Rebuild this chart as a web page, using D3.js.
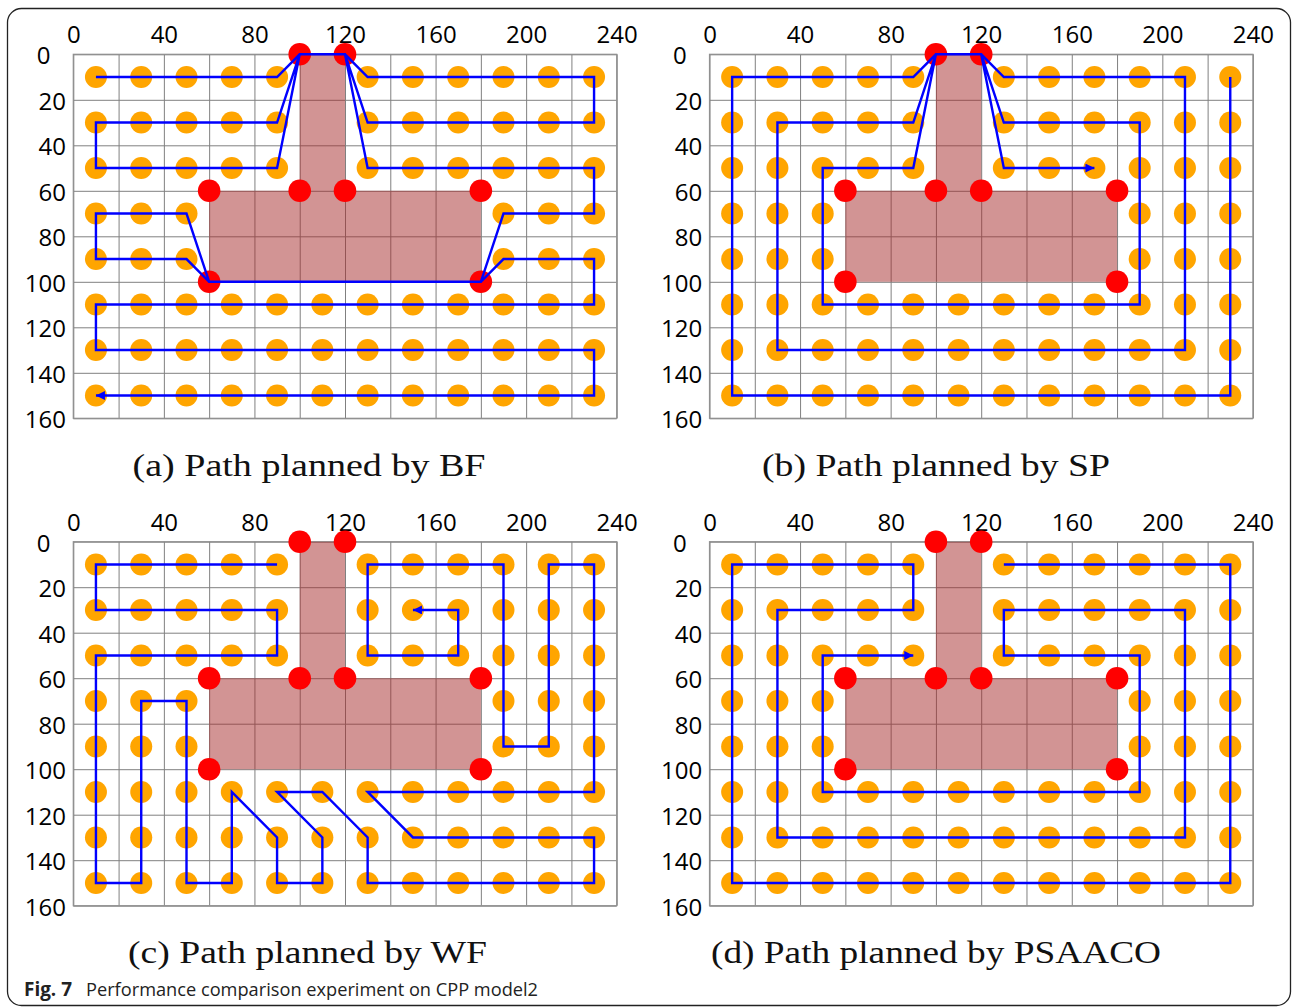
<!DOCTYPE html>
<html>
<head>
<meta charset="utf-8">
<script src="https://cdn.jsdelivr.net/npm/d3@7"></script>
<style>
  html, body { margin: 0; padding: 0; background: #fff; }
  svg { display: block; }
</style>
</head>
<body>
<svg id="fig" width="1293" height="1008"></svg>
<script>
// ---- workspace description (units: cm) ----
const xTicks = [0, 40, 80, 120, 160, 200, 240];
const yTicks = [0, 20, 40, 60, 80, 100, 120, 140, 160];
const gridX = [0, 20, 40, 60, 80, 100, 120, 140, 160, 180, 200, 220, 240];
const gridY = [0, 20, 40, 60, 80, 100, 120, 140, 160];

// centres of the coverage cells
const cellX = [10, 30, 50, 70, 90, 110, 130, 150, 170, 190, 210, 230];
const cellY = [10, 30, 50, 70, 90, 110, 130, 150];

// cells occupied by the T-shaped obstacle
const blockedCells = [
  [110, 10], [110, 30], [110, 50],
  [70, 70], [90, 70], [110, 70], [130, 70], [150, 70], [170, 70],
  [70, 90], [90, 90], [110, 90], [130, 90], [150, 90], [170, 90]
];

// obstacle outline and its corner vertices
const obstacle = [[100, 0], [120, 0], [120, 60], [180, 60], [180, 100], [60, 100], [60, 60], [100, 60]];
const obstacleCorners = [[100, 0], [120, 0], [60, 60], [100, 60], [120, 60], [180, 60], [60, 100], [180, 100]];

// planned paths
const pathBF = [
  [10, 10], [90, 10], [100, 0], [120, 0], [130, 10], [230, 10], [230, 30], [130, 30], [120, 0], [100, 0],
  [90, 30], [10, 30], [10, 50], [90, 50], [100, 0], [120, 0], [130, 50], [230, 50], [230, 70], [190, 70],
  [180, 100], [60, 100], [50, 70], [10, 70], [10, 90], [50, 90], [60, 100], [180, 100], [190, 90], [230, 90],
  [230, 110], [10, 110], [10, 130], [230, 130], [230, 150], [10, 150]
];
const pathSP = [
  [230, 10], [230, 150], [10, 150], [10, 10], [90, 10], [100, 0], [120, 0], [130, 10], [210, 10], [210, 130],
  [30, 130], [30, 30], [90, 30], [100, 0], [120, 0], [130, 30], [190, 30], [190, 110], [50, 110], [50, 50],
  [90, 50], [100, 0], [120, 0], [130, 50], [170, 50]
];
const pathWF = [
  [90, 10], [10, 10], [10, 30], [90, 30], [90, 50], [10, 50], [10, 150], [30, 150], [30, 70], [50, 70],
  [50, 150], [70, 150], [70, 110], [90, 130], [90, 150], [110, 150], [110, 130], [90, 110], [110, 110],
  [130, 130], [130, 150], [230, 150], [230, 130], [150, 130], [130, 110], [230, 110], [230, 10], [210, 10],
  [210, 90], [190, 90], [190, 10], [130, 10], [130, 50], [170, 50], [170, 30], [150, 30]
];
const pathPSAACO = [
  [130, 10], [230, 10], [230, 150], [10, 150], [10, 10], [90, 10], [90, 30], [30, 30], [30, 130], [210, 130],
  [210, 30], [130, 30], [130, 50], [190, 50], [190, 110], [50, 110], [50, 50], [90, 50]
];

const captions = [
  "(a) Path planned by BF",
  "(b) Path planned by SP",
  "(c) Path planned by WF",
  "(d) Path planned by PSAACO"
];
const paths = [pathBF, pathSP, pathWF, pathPSAACO];

// ---- layout ----
const plotW = 543.4, plotH = 364;
const panels = [
  { ox: 73.3,  oy: 54.3,  capX: 132.5, capW: 353 },
  { ox: 709.5, oy: 54.3,  capX: 762,   capW: 348 },
  { ox: 73.3,  oy: 541.7, capX: 128,   capW: 359 },
  { ox: 709.5, oy: 541.7, capX: 711,   capW: 450 }
];

const svg = d3.select("#fig");

// figure frame
svg.append("rect")
  .attr("x", 7.5).attr("y", 8.5)
  .attr("width", 1283).attr("height", 997)
  .attr("rx", 14).attr("ry", 14)
  .attr("fill", "none").attr("stroke", "#222").attr("stroke-width", 1.3);

const defs = svg.append("defs");
defs.append("marker")
  .attr("id", "arrow")
  .attr("viewBox", "0 0 10 10")
  .attr("refX", 10).attr("refY", 5)
  .attr("markerUnits", "userSpaceOnUse")
  .attr("markerWidth", 13).attr("markerHeight", 9)
  .attr("orient", "auto")
  .append("path").attr("d", "M0,0 L10,5 L0,10 Z").attr("fill", "#0000ff");

const isBlocked = (cx, cy) => blockedCells.some(([bx, by]) => bx === cx && by === cy);
const freeCells = [];
cellY.forEach(cy => cellX.forEach(cx => { if (!isBlocked(cx, cy)) freeCells.push([cx, cy]); }));

panels.forEach((p, i) => {
  const x = d3.scaleLinear().domain([0, 240]).range([p.ox, p.ox + plotW]);
  const y = d3.scaleLinear().domain([0, 160]).range([p.oy, p.oy + plotH]);
  const g = svg.append("g");

  // grid lines
  const gx = g.append("g").attr("transform", `translate(0,${p.oy})`)
    .call(d3.axisTop(x).tickValues(gridX).tickSize(-plotH).tickFormat(""));
  const gy = g.append("g").attr("transform", `translate(${p.ox},0)`)
    .call(d3.axisLeft(y).tickValues(gridY).tickSize(-plotW).tickFormat(""));
  [gx, gy].forEach(a => {
    a.select(".domain").remove();
    a.selectAll("line").attr("stroke", "#808080").attr("stroke-width", 1);
  });
  g.append("rect")
    .attr("x", x(0)).attr("y", y(0))
    .attr("width", x(240) - x(0)).attr("height", y(160) - y(0))
    .attr("fill", "none").attr("stroke", "#909090").attr("stroke-width", 1.2);

  // tick labels
  const ax = g.append("g").attr("transform", `translate(0,${p.oy})`)
    .call(d3.axisTop(x).tickValues(xTicks).tickSize(0).tickPadding(11));
  const ay = g.append("g").attr("transform", `translate(${p.ox},0)`)
    .call(d3.axisLeft(y).tickValues(yTicks).tickSize(0).tickPadding(7.3));
  [ax, ay].forEach(a => {
    a.select(".domain").remove();
    a.selectAll("text")
      .attr("font-family", "'Open Sans', sans-serif")
      .attr("font-size", 24).attr("fill", "#000");
  });
  ay.selectAll("text").attr("dy", "0.4em")
    .attr("x", d => d === 0 ? -22.8 : -7.3);

  // obstacle
  g.append("path")
    .attr("d", d3.line().x(d => x(d[0])).y(d => y(d[1]))(obstacle) + "Z")
    .attr("fill", "#a52a2a").attr("fill-opacity", 0.5);

  // free cells
  g.append("g").selectAll("circle").data(freeCells).join("circle")
    .attr("cx", d => x(d[0])).attr("cy", d => y(d[1])).attr("r", 11)
    .attr("fill", "#ffa500");

  // obstacle corners
  g.append("g").selectAll("circle").data(obstacleCorners).join("circle")
    .attr("cx", d => x(d[0])).attr("cy", d => y(d[1])).attr("r", 11.3)
    .attr("fill", "#ff0000");

  // path
  g.append("path")
    .attr("d", d3.line().x(d => x(d[0])).y(d => y(d[1]))(paths[i]))
    .attr("fill", "none").attr("stroke", "#0000ff").attr("stroke-width", 2.4)
    .attr("stroke-linejoin", "miter").attr("marker-end", "url(#arrow)");

  // sub-caption
  g.append("text")
    .attr("x", p.capX).attr("y", p.oy + 421.4)
    .attr("font-family", "'Liberation Serif', 'DejaVu Serif', serif")
    .attr("font-size", 31).attr("fill", "#111")
    .attr("textLength", p.capW).attr("lengthAdjust", "spacingAndGlyphs")
    .text(captions[i]);
});

// figure caption
const cap = svg.append("text").attr("y", 996)
  .attr("font-family", "'Open Sans', sans-serif").attr("font-size", 19).attr("fill", "#222");
cap.append("tspan").attr("x", 24).attr("font-weight", "bold")
  .attr("textLength", 48).attr("lengthAdjust", "spacingAndGlyphs").text("Fig. 7");
cap.append("tspan").attr("x", 86)
  .attr("textLength", 452).attr("lengthAdjust", "spacingAndGlyphs")
  .text("Performance comparison experiment on CPP model2");
</script>
</body>
</html>
